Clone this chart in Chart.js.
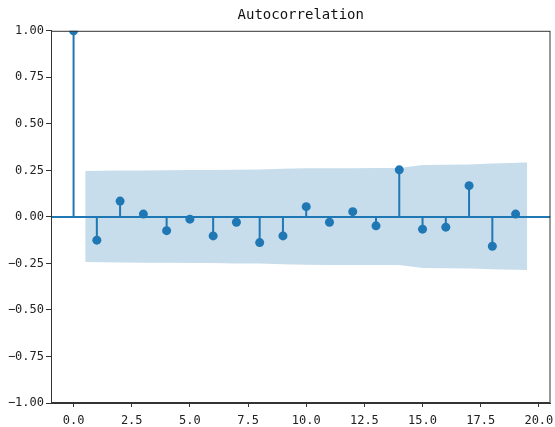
<!DOCTYPE html>
<html>
<head>
<meta charset="utf-8">
<script src="https://cdn.jsdelivr.net/npm/chart.js@4"></script>
<style>
  html, body { margin: 0; padding: 0; background: #fff; }
  #wrap { width: 555px; height: 427px; }
</style>
</head>
<body>
<div id="wrap"><canvas id="acf"></canvas></div>
<script>
// autocorrelation values for lags 0..19
const lags = [0, 1, 2, 3, 4, 5, 6, 7, 8, 9, 10, 11, 12, 13, 14, 15, 16, 17, 18, 19];
const acfValues = [1.0, -0.125, 0.085, 0.015, -0.074, -0.012, -0.102, -0.029, -0.138, -0.102,
  0.055, -0.029, 0.028, -0.048, 0.253, -0.066, -0.055, 0.168, -0.158, 0.015];

// confidence band (upper edge, lower is mirrored), first/last lag pushed out by half a step
const bandLags = [0.5, 2, 3, 4, 5, 6, 7, 8, 9, 10, 11, 12, 13, 14, 15, 16, 17, 18, 19.5];
const bandUpper = [0.247, 0.249, 0.250, 0.251, 0.252, 0.252, 0.254, 0.255, 0.259, 0.261,
  0.262, 0.262, 0.263, 0.263, 0.279, 0.280, 0.281, 0.287, 0.292];
const bandLower = [-0.243, -0.245, -0.246, -0.247, -0.248, -0.248, -0.250, -0.251, -0.255, -0.257,
  -0.258, -0.258, -0.259, -0.259, -0.275, -0.276, -0.277, -0.281, -0.285];

const xTicks = [0, 2.5, 5, 7.5, 10, 12.5, 15, 17.5, 20];
const X_MIN = -0.97;
const X_MAX = 20.5;

const BLUE = "#1f77b4";
const AXIS = "#333333";
const FONT = "'DejaVu Sans Mono', monospace";

function minus(s) {
  return s.replace("-", "\u2212");
}

// stems drawn as one line with gaps between lags
let stemPoints = [];
lags.forEach((lag, i) => {
  stemPoints.push({ x: lag, y: 0 });
  stemPoints.push({ x: lag, y: acfValues[i] });
  stemPoints.push({ x: lag, y: null });
});

// box round the plot area, like matplotlib spines
const frame = {
  id: "frame",
  afterDraw(chart) {
    const a = chart.chartArea;
    const ctx = chart.ctx;
    ctx.save();
    ctx.strokeStyle = AXIS;
    ctx.lineWidth = 1;
    ctx.strokeRect(a.left + 0.5, a.top + 0.5, a.right - a.left - 1, a.bottom - a.top - 1);
    ctx.restore();
  },
};

const config = {
  type: "scatter",
  data: {
    datasets: [
      {
        type: "line",
        data: bandLags.map((x, i) => ({ x: x, y: bandUpper[i] })),
        borderWidth: 0,
        pointRadius: 0,
        backgroundColor: "rgba(31,119,180,0.25)",
        fill: "+1",
        order: 5,
      },
      {
        type: "line",
        data: bandLags.map((x, i) => ({ x: x, y: bandLower[i] })),
        borderWidth: 0,
        pointRadius: 0,
        fill: false,
        order: 5,
      },
      {
        // horizontal zero line across the axes
        type: "line",
        data: [{ x: X_MIN, y: 0 }, { x: X_MAX, y: 0 }],
        borderColor: BLUE,
        borderWidth: 2,
        pointRadius: 0,
        fill: false,
        order: 3,
      },
      {
        type: "line",
        data: stemPoints,
        borderColor: BLUE,
        borderWidth: 2,
        pointRadius: 0,
        spanGaps: false,
        fill: false,
        order: 2,
      },
      {
        data: lags.map((lag, i) => ({ x: lag, y: acfValues[i] })),
        backgroundColor: BLUE,
        borderColor: BLUE,
        pointRadius: 4.5,
        borderWidth: 0,
        order: 1,
      },
    ],
  },
  options: {
    responsive: true,
    maintainAspectRatio: false,
    animation: false,
    layout: { padding: { left: 0, right: 0, top: 0, bottom: 0 } },
    plugins: {
      legend: { display: false },
      tooltip: { enabled: false },
      title: {
        display: true,
        text: "Autocorrelation",
        fullSize: false,
        color: "#111",
        font: { family: FONT, size: 14, weight: "normal" },
        padding: { top: 7, bottom: 7 },
      },
    },
    scales: {
      x: {
        type: "linear",
        min: X_MIN,
        max: X_MAX,
        afterBuildTicks: (scale) => {
          scale.ticks = xTicks.map((v) => ({ value: v }));
        },
        afterFit: (scale) => {
          scale.height = 24;
          // let the last label run to the canvas edge like the reference
          scale.paddingLeft = 0;
          scale.paddingRight = 0;
        },
        grid: {
          drawOnChartArea: false,
          drawTicks: true,
          tickLength: 4,
          tickColor: AXIS,
        },
        border: { color: AXIS, width: 1 },
        ticks: {
          color: "#222",
          font: { family: FONT, size: 12 },
          padding: 7,
          maxRotation: 0,
          autoSkip: false,
          callback: (v) => Number(v).toFixed(1),
        },
      },
      y: {
        min: -1,
        max: 1,
        afterFit: (scale) => {
          scale.width = 51;
          scale.paddingTop = 0;
          scale.paddingBottom = 0;
        },
        grid: {
          drawOnChartArea: false,
          drawTicks: true,
          tickLength: 5,
          tickColor: AXIS,
        },
        border: { color: AXIS, width: 1 },
        ticks: {
          stepSize: 0.25,
          color: "#222",
          font: { family: FONT, size: 12 },
          padding: 2,
          callback: (v) => minus(Number(v).toFixed(2)),
        },
      },
    },
  },
  plugins: [frame],
};

new Chart(document.getElementById("acf"), config);
</script>
</body>
</html>
